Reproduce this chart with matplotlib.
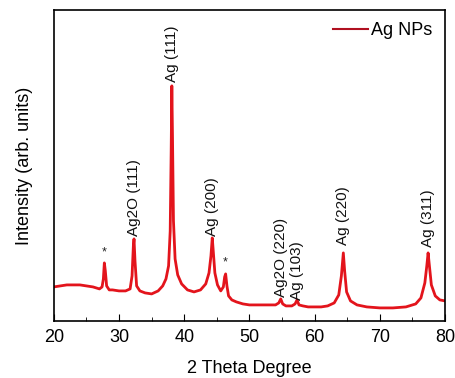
import matplotlib
matplotlib.use("Agg")
import matplotlib.pyplot as plt
from matplotlib.ticker import MultipleLocator

plt.rcParams['font.family'] = ['Liberation Sans', 'DejaVu Sans']

# XRD pattern (2 theta, intensity in arb. units)
two_theta = [20.0, 21.0, 22.0, 23.0, 24.0, 25.0, 26.0, 27.0, 27.4, 27.6, 27.75, 27.9,
             28.1, 28.5, 29.0, 30.0, 31.0, 31.7, 32.0, 32.2, 32.3, 32.45, 32.7, 33.2,
             34.0, 35.0, 36.0, 36.7, 37.2, 37.6, 37.85, 38.0, 38.1, 38.2, 38.35, 38.6,
             39.0, 39.6, 40.5, 41.5, 42.5, 43.3, 43.8, 44.1, 44.3, 44.45, 44.7, 45.1,
             45.6, 46.0, 46.2, 46.35, 46.55, 46.8, 47.3, 48.0, 49.0, 50.0, 51.0, 52.0,
             53.0, 54.0, 54.5, 54.8, 55.1, 55.6, 56.5, 57.0, 57.3, 57.6, 58.2, 59.0,
             60.0, 61.0, 62.0, 63.0, 63.7, 64.1, 64.4, 64.6, 64.9, 65.5, 66.5, 68.0,
             70.0, 72.0, 74.0, 75.5, 76.3, 76.9, 77.2, 77.4, 77.6, 77.9, 78.5, 79.2, 80.0]
intensity = [34, 35, 36, 36, 36, 35, 34, 32, 34, 42, 58, 50,
             35, 31, 31, 30, 30, 32, 45, 75, 82, 60, 35, 30,
             28, 27, 30, 35, 42, 55, 90, 170, 235, 185, 100, 62,
             46, 37, 31, 29, 31, 37, 48, 65, 83, 70, 48, 36,
             30, 34, 44, 47, 35, 25, 21, 19, 17, 16, 16, 16,
             16, 16, 18, 22, 17, 15, 15, 17, 21, 16, 15, 14,
             14, 14, 15, 18, 26, 45, 68, 50, 29, 20, 16, 14,
             13, 13, 14, 17, 23, 38, 55, 68, 55, 36, 25, 21, 20]

# peak annotations: position, text, baseline of the label
peak_pos = [27.8, 32.3, 38.1, 44.3, 46.3, 54.8, 57.3, 64.4, 77.4]
peak_text = ["*", "Ag2O (111)", "Ag (111)", "Ag (200)", "*",
             "Ag2O (220)", "Ag (103)", "Ag (220)", "Ag (311)"]
label_y = [62, 85, 239, 85, 52, 24, 21, 76, 74]

fig, ax = plt.subplots(figsize=(4.56, 3.78), dpi=100)
fig.subplots_adjust(left=0.118, right=0.976, top=0.974, bottom=0.151)

ax.plot(two_theta, intensity, color='#e3141c', lw=2.0, label='Ag NPs')

for x, t, y in zip(peak_pos, peak_text, label_y):
    if t == "*":
        ax.text(x, y, t, ha='center', va='bottom', fontsize=9, color='#222222')
    else:
        ax.text(x, y, t, rotation=90, ha='center', va='bottom', fontsize=11,
                color='#111111')

ax.set_xlim(20, 80)
ax.set_ylim(0, 311)
ax.xaxis.set_major_locator(MultipleLocator(10))
ax.xaxis.set_minor_locator(MultipleLocator(5))
ax.tick_params(axis='x', which='major', direction='in', length=5, labelsize=13, pad=6)
ax.tick_params(axis='x', which='minor', direction='in', length=3)
ax.set_yticks([])
for s in ax.spines.values():
    s.set_linewidth(1.2)

ax.set_xlabel('2 Theta Degree', fontsize=13, labelpad=10)
ax.set_ylabel('Intensity (arb. units)', fontsize=13, labelpad=15)

leg = ax.legend(loc='upper right', frameon=False, fontsize=13, handlelength=1.9,
                handletextpad=0.2, borderaxespad=0.3)
leg.get_lines()[0].set_color('#b01020')
leg.get_lines()[0].set_linewidth(1.5)

fig.savefig('out.png', dpi=100)
